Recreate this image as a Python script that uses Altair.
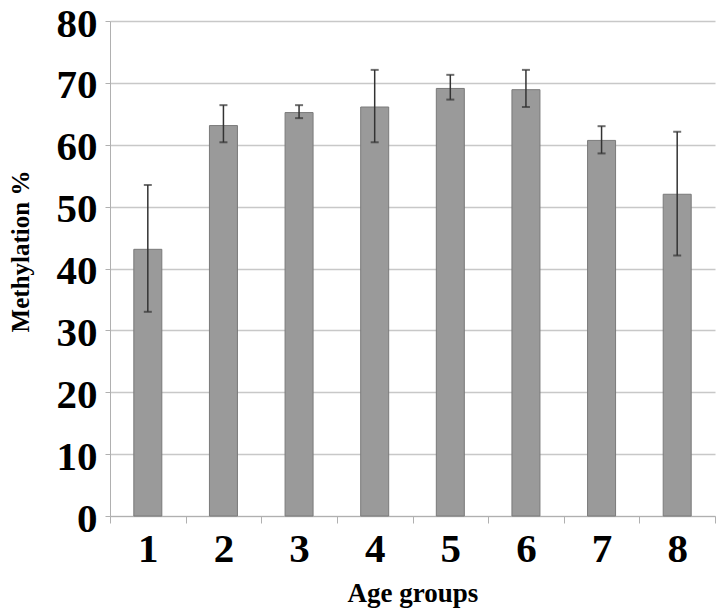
import altair as alt
import pandas as pd

groups = ["1", "2", "3", "4", "5", "6", "7", "8"]
means = [43.1, 63.1, 65.2, 66.1, 69.1, 68.9, 60.7, 52.0]
lower = [33.0, 60.4, 64.3, 60.4, 67.3, 66.1, 58.6, 42.1]
upper = [53.5, 66.4, 66.4, 72.1, 71.3, 72.1, 63.0, 62.1]

df = pd.DataFrame({"group": groups, "mean": means, "lo": lower, "hi": upper})

FONT = "Liberation Serif"

x = alt.X(
    "group:N",
    sort=groups,
    scale=alt.Scale(paddingInner=0, paddingOuter=0),
    axis=alt.Axis(
        title="Age groups",
        labelAngle=0,
        grid=False,
        tickBand="extent",
        tickSize=7,
        tickColor="#b0b0b0",
        domainColor="#b0b0b0",
        labelFont=FONT,
        labelFontSize=41,
        labelFontWeight="bold",
        labelColor="black",
        labelBaseline="alphabetic",
        labelPadding=38,
        titleFont=FONT,
        titleFontSize=27,
        titleFontWeight="bold",
        titleColor="black",
        titleBaseline="alphabetic",
        titleY=85,
    ),
)

y_axis = alt.Axis(
    title="Methylation %",
    values=[0, 10, 20, 30, 40, 50, 60, 70, 80],
    grid=True,
    gridColor="#c8c8c8",
    gridWidth=1.5,
    tickSize=5,
    tickColor="#b0b0b0",
    domainColor="#b0b0b0",
    labelFont=FONT,
    labelFontSize=41,
    labelFontWeight="bold",
    labelColor="black",
    labelPadding=8,
    labelOffset=3,
    titleFont=FONT,
    titleFontSize=25,
    titleFontWeight="bold",
    titleColor="black",
    titleBaseline="middle",
    titleX=-90,
    titleY=230,
)

y_scale = alt.Scale(domain=[0, 80], nice=False)

base = alt.Chart(df)

bars = base.mark_bar(size=28, color="#9a9a9a", stroke="#7a7a7a", strokeWidth=1).encode(
    x=x,
    y=alt.Y("mean:Q", scale=y_scale, axis=y_axis),
)

rules = base.mark_rule(color="#333333", strokeWidth=1.5).encode(
    x=alt.X("group:N", sort=groups),
    y="lo:Q",
    y2="hi:Q",
)

caps_hi = base.mark_tick(color="#333333", thickness=2, size=8).encode(
    x=alt.X("group:N", sort=groups),
    y="hi:Q",
)
caps_lo = base.mark_tick(color="#333333", thickness=2, size=8).encode(
    x=alt.X("group:N", sort=groups),
    y="lo:Q",
)

chart = (
    alt.layer(bars, rules, caps_hi, caps_lo)
    .properties(
        width=605,
        height=495,
        autosize=alt.AutoSizeParams(type="none"),
        padding={"left": 102, "top": 13, "right": 1, "bottom": 100},
        background="white",
    )
    .configure_view(stroke=None)
)

chart.save("out.html", embed_options={"renderer": "svg", "actions": False})
